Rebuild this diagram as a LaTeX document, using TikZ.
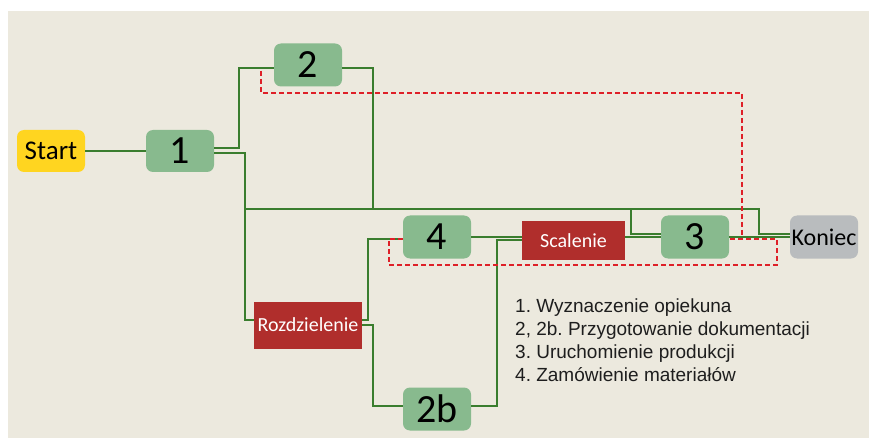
\documentclass[tikz,border=0pt]{standalone}
\usepackage{fontspec}
\setmainfont{Liberation Sans}
\newfontfamily\calfont{Carlito}
\usetikzlibrary{calc}
\frenchspacing
\definecolor{bgbeige}{RGB}{236,233,222}
\definecolor{nodegreen}{RGB}{136,186,142}
\definecolor{nodered}{RGB}{176,46,44}
\definecolor{nodeyellow}{RGB}{255,213,32}
\definecolor{nodegray}{RGB}{185,188,190}
\definecolor{linegreen}{RGB}{58,125,46}
\definecolor{dashred}{RGB}{222,32,40}
\definecolor{legendtext}{RGB}{30,30,30}
\tikzset{
  greenbox/.style={fill=nodegreen, rounded corners=7pt, minimum width=68pt, minimum height=43pt, inner sep=0pt, font=\calfont\fontsize{40}{40}\selectfont},
  redbox/.style={fill=nodered, text=white, inner sep=0pt, font=\calfont\fontsize{20}{20}\selectfont},
  startbox/.style={fill=nodeyellow, rounded corners=7pt, minimum width=68pt, minimum height=42pt, inner sep=0pt, font=\calfont\fontsize{27}{27}\selectfont},
  endbox/.style={fill=nodegray, rounded corners=7pt, minimum width=68pt, minimum height=43pt, inner sep=0pt, font=\calfont\fontsize{24}{24}\selectfont},
  conn/.style={draw=linegreen, line width=1.8pt},
  redpath/.style={draw=dashred, line width=1.4pt, dash pattern=on 5pt off 3pt},
  legend/.style={anchor=base west, inner sep=0pt, text=legendtext, font=\fontsize{19}{23}\selectfont}
}
\begin{document}
\begin{tikzpicture}[x=1pt, y=-1pt]
\useasboundingbox (0,0) rectangle (869,438);
\fill[white] (0,0) rectangle (869,438);
\fill[bgbeige] (8,11) rectangle (869,438);

% nodes
\node[startbox] (start) at (51,151) {Start};
\node[greenbox, minimum height=42pt] (n1) at (180,151) {1};
\node[greenbox] (n2) at (308,65) {2};
\node[greenbox] (n4) at (437,237) {4};
\node[redbox, minimum width=103pt, minimum height=39pt] (scal) at (573.5,240.5) {Scalenie};
\node[redbox, minimum width=108pt, minimum height=47pt] (rozd) at (308,325) {Rozdzielenie};
\node[greenbox] (n2b) at (437,409) {2b};
\node[greenbox] (n3) at (695,237) {3};
\node[endbox] (kon) at (824,237) {Koniec};

% junction coordinates
\coordinate (jA) at (239,148);
\coordinate (jB) at (245,153);
\coordinate (busL) at (245,209);
\coordinate (busM) at (373,209);
\coordinate (busT) at (631,209);
\coordinate (busR) at (759,209);
\coordinate (jR1) at (368,320);
\coordinate (jR2) at (373,325);
\coordinate (j2b) at (497,406);

% connectors
\draw[conn] (start.east) -- (n1.west);
\draw[conn] ([yshift=3pt]n1.east) -- (jA) |- ([yshift=-3pt]n2.west);
\draw[conn] ([yshift=-2pt]n1.east) -- (jB) |- ([yshift=5pt]rozd.west);
\draw[conn] ([yshift=-3pt]n2.east) -| (busM);
\draw[conn] (busL) -- (busR) |- ([yshift=3pt]kon.west);
\draw[conn] (busT) |- ([yshift=3pt]n3.west);
\draw[conn] ([yshift=3.5pt]scal.east) -- (n3.west);
\draw[conn] (n3.east) -- (kon.west);
\draw[conn] ([yshift=5pt]rozd.east) -- (jR1) |- ([yshift=-2pt]n4.west);
\draw[conn] (rozd.east) -- (jR2) |- ([yshift=3pt]n2b.west);
\draw[conn] (n4.east) -- ([yshift=3.5pt]scal.west);
\draw[conn] ([yshift=3pt]n2b.east) -- (j2b) |- ([yshift=0.5pt]scal.west);

% red dashed paths
\coordinate (dA0) at (261,71);
\coordinate (dA1) at (742,236);
\draw[redpath] (dA0) |- (742,93) -- (dA1);
\draw[redpath] ([yshift=-2pt]n4.west) -- (389,239) |- (777,265) |- ([yshift=-2pt]n3.east);

% legend
\node[legend] (l1) at (515,312) {1. Wyznaczenie opiekuna};
\node[legend] (l2) at (515,335) {2, 2b. Przygotowanie dokumentacji};
\node[legend] (l3) at (515,358) {3. Uruchomienie produkcji};
\node[legend] (l4) at (515,381) {4. Zamówienie materiałów};
\end{tikzpicture}
\end{document}
